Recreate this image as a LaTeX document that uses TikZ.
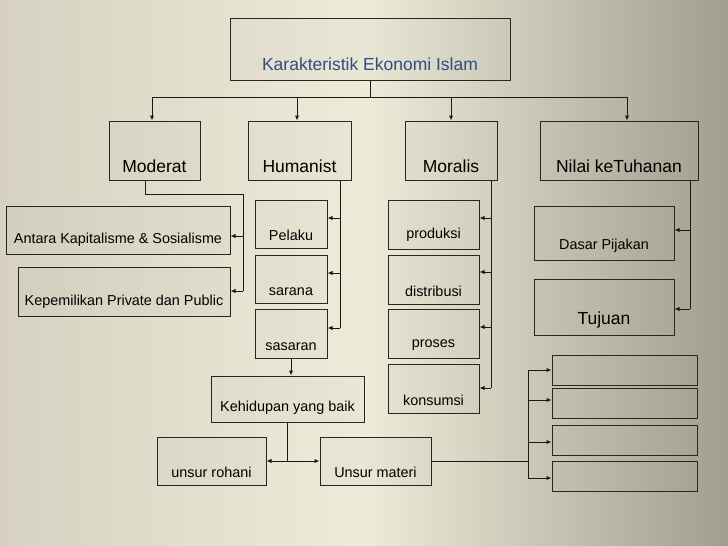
\documentclass[tikz,border=0pt]{standalone}
\usepackage{fontspec}
\setmainfont{Liberation Sans}
\usetikzlibrary{fit,arrows.meta}
\definecolor{ttl}{HTML}{2F4F7F}
\definecolor{bgl}{HTML}{D6D1C0}
\definecolor{bgm}{HTML}{EFEBD9}
\definecolor{bgr}{HTML}{A29E8E}
\tikzset{
 box/.style={draw=black!85, line width=1pt, fill=black!40, fill opacity=0.06, text opacity=1, inner sep=0pt},
 con/.style={draw=black!90, line width=1pt},
 arr/.style={con, -{Latex[length=5pt,width=4.5pt]}},
 big/.style={font=\fontsize{17.5}{19}\selectfont},
 sml/.style={font=\fontsize{14.4}{16}\selectfont}
}
\newcommand{\bx}[7]{\node[box, fit={(#2,#3)(#4,#5)}, label={[anchor=south, yshift=4pt, #7]south:{#6}}] (#1) {};}
\begin{document}
\begin{tikzpicture}[x=1pt,y=-1pt]
\shade[left color=bgl, right color=bgr, middle color=bgm] (0,0) rectangle (728,546);
\useasboundingbox (0,0) rectangle (728,546);
\node[box, fit={(230,18)(510,80)}, label={[anchor=south, yshift=6pt, big, text=ttl]south:{Karakteristik Ekonomi Islam}}] (top) {};
\bx{mod}{109}{121}{200}{180}{Moderat}{big}
\bx{hum}{248}{121}{351}{180}{Humanist}{big}
\bx{mor}{405}{121}{497}{180}{Moralis}{big}
\bx{nil}{540}{121}{698}{180}{Nilai keTuhanan}{big}
\bx{ant}{6}{206}{230}{254}{Antara Kapitalisme \& Sosialisme}{sml}
\bx{kep}{18}{267}{230}{316}{Kepemilikan Private dan Public}{sml}
\bx{pel}{255}{200}{327}{248}{Pelaku}{sml}
\bx{sar}{255}{255}{327}{303}{sarana}{sml}
\bx{sas}{255}{309}{327}{358}{sasaran}{sml}
\bx{keh}{211}{376}{364}{422}{Kehidupan yang baik}{sml}
\bx{roh}{157}{437}{266}{485}{unsur rohani}{sml}
\bx{mat}{320}{437}{431}{485}{Unsur materi}{sml}
\bx{pro}{388}{200}{479}{249}{produksi}{sml}
\bx{dis}{388}{255}{479}{304}{distribusi}{sml}
\bx{prs}{388}{309}{479}{358}{proses}{sml}
\bx{kon}{388}{364}{479}{413}{konsumsi}{sml}
\bx{das}{534}{206}{674}{260}{Dasar Pijakan}{sml}
\bx{tuj}{534}{279}{674}{335}{Tujuan}{big}
\node[box, fit={(552,355)(697,385)}] (r1) {};
\node[box, fit={(552,388)(697,418)}] (r2) {};
\node[box, fit={(552,425)(697,455)}] (r3) {};
\node[box, fit={(552,461)(697,491)}] (r4) {};
% top
\coordinate (tj) at (370,97);
\draw[con] (top.south -| tj) -- (tj);
\draw[con] (152,97) -- (627,97);
\draw[arr] (152,97) -- (mod.north -| 152,0);
\draw[arr] (297,97) -- (hum.north -| 297,0);
\draw[arr] (451,97) -- (mor.north -| 451,0);
\draw[arr] (627,97) -- (nil.north -| 627,0);
% moderat
\coordinate (m1) at (243,194);
\draw[con] (mod.south -| 145,0) |- (m1) -- (243,291);
\draw[arr] (243,236) -- (ant.east |- 0,236);
\draw[arr] (243,291) -- (kep.east |- 0,291);
% humanist
\draw[con] (hum.south -| 340,0) -- (340,328);
\draw[arr] (340,218) -- (pel.east |- 0,218);
\draw[arr] (340,273) -- (sar.east |- 0,273);
\draw[arr] (340,328) -- (sas.east |- 0,328);
\draw[arr] (sas.south -| 291,0) -- (keh.north -| 291,0);
\draw[con] (keh.south -| 287,0) -- (287,461);
\draw[arr] (287,461) -- (roh.east |- 0,461);
\draw[arr] (287,461) -- (mat.west |- 0,461);
% moralis
\draw[con] (mor.south -| 491,0) -- (491,388);
\draw[arr] (491,218) -- (pro.east |- 0,218);
\draw[arr] (491,272) -- (dis.east |- 0,272);
\draw[arr] (491,327) -- (prs.east |- 0,327);
\draw[arr] (491,388) -- (kon.east |- 0,388);
% nilai
\draw[con] (nil.south -| 690,0) -- (690,309);
\draw[arr] (690,230) -- (das.east |- 0,230);
\draw[arr] (690,309) -- (tuj.east |- 0,309);
% materi
\draw[con] (mat.east |- 0,461) -- (528,461);
\draw[con] (528,370) -- (528,478);
\draw[arr] (528,370) -- (r1.west |- 0,370);
\draw[arr] (528,400) -- (r2.west |- 0,400);
\draw[arr] (528,442) -- (r3.west |- 0,442);
\draw[arr] (528,478) -- (r4.west |- 0,478);
\end{tikzpicture}
\end{document}
